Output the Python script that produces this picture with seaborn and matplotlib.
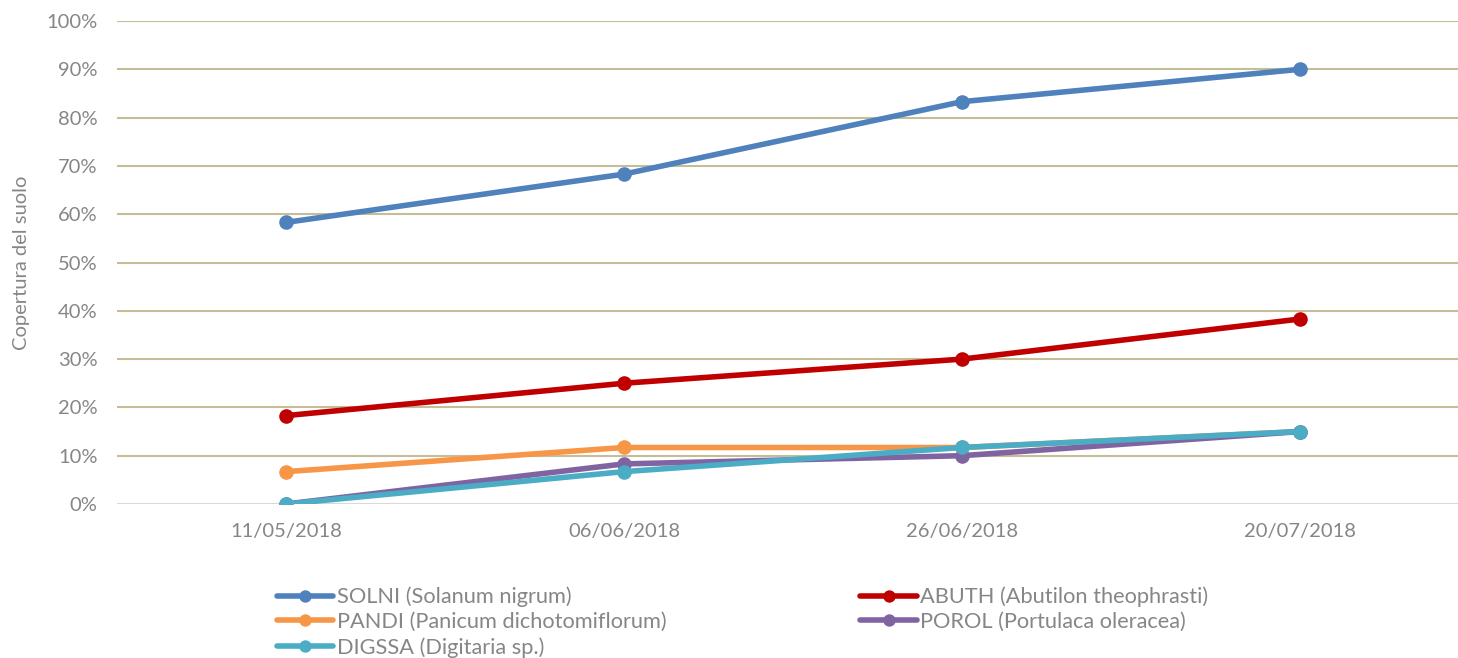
import matplotlib
matplotlib.use("Agg")
import matplotlib.pyplot as plt
from matplotlib.ticker import PercentFormatter, FixedLocator
import seaborn as sns
import pandas as pd

dates = ["11/05/2018", "06/06/2018", "26/06/2018", "20/07/2018"]
solni = [0.583, 0.683, 0.833, 0.900]
abuth = [0.183, 0.250, 0.300, 0.383]
pandi = [0.067, 0.117, 0.117, 0.150]
porol = [0.000, 0.083, 0.100, 0.150]
digssa = [0.000, 0.067, 0.117, 0.150]

names = ["SOLNI (Solanum nigrum)", "ABUTH (Abutilon theophrasti)",
         "PANDI (Panicum dichotomiflorum)", "POROL (Portulaca oleracea)",
         "DIGSSA (Digitaria sp.)"]
series = [solni, abuth, pandi, porol, digssa]
colors = ["#4F81BD", "#C00000", "#F79646", "#8064A2", "#4BACC6"]

rows = []
for n, vals in zip(names, series):
    for d, v in zip(dates, vals):
        rows.append({"date": d, "value": v, "species": n})
df = pd.DataFrame(rows)

sns.set_theme(style="white")
plt.rcParams["font.family"] = ["Lato", "DejaVu Sans"]
text_color = "#868686"

fig = plt.figure(figsize=(14.58, 6.58), dpi=100)
ax = fig.add_axes([117/1458, (658-504)/658, 1 - 117/1458, (504-21)/658])

sns.lineplot(data=df, x="date", y="value", hue="species", hue_order=names,
             palette=colors, marker="o", markersize=10.5, markeredgewidth=0,
             linewidth=4, sort=False, ax=ax)

ax.set_ylim(0, 1)
ax.set_xlim(-0.5, 3.5 - 11/338)
ax.yaxis.set_major_locator(FixedLocator([i/10 for i in range(11)]))
ax.yaxis.set_major_formatter(PercentFormatter(1.0, decimals=0))
for i in range(1, 11):
    ax.axhline(i/10, color="#C4BD97", linewidth=1.5, zorder=0)
ax.axhline(0, color="#D9D9D9", linewidth=1.5, zorder=0)
for s in ax.spines.values():
    s.set_visible(False)
ax.tick_params(axis="both", length=0, colors=text_color, labelsize=14.5)
ax.tick_params(axis="y", pad=14)
ax.tick_params(axis="x", pad=14)
ax.set_xlabel("")
ax.set_ylabel("Copertura del suolo", color=text_color, fontsize=14.5, labelpad=12)

handles, labels = ax.get_legend_handles_labels()
order = [0, 2, 4, 1, 3]
leg = ax.legend([handles[i] for i in order], [labels[i] for i in order],
                ncol=2, frameon=False, loc="upper left",
                bbox_to_anchor=(268/1458, 1 - 578/658), bbox_transform=fig.transFigure,
                fontsize=15.7, labelcolor=text_color, handlelength=2.6,
                handletextpad=0.15, columnspacing=8.9, labelspacing=0.22,
                borderaxespad=0, markerscale=0.85)

fig.savefig("out.png", dpi=100)
